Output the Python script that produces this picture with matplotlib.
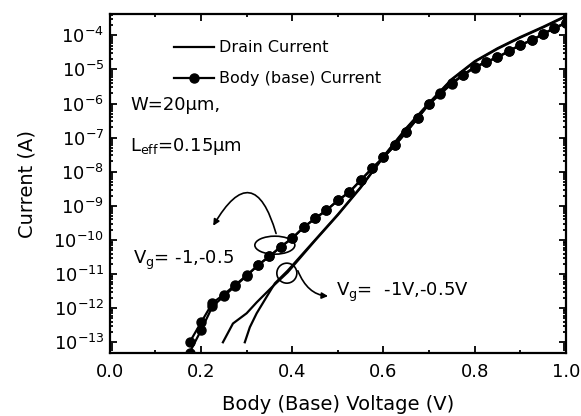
import numpy as np
import matplotlib
matplotlib.use("Agg")
import matplotlib.pyplot as plt
from matplotlib.ticker import LogLocator, FixedLocator, MultipleLocator, FuncFormatter
from matplotlib.patches import Ellipse, FancyArrowPatch

plt.rcParams['font.family'] = ['DejaVu Sans']
plt.rcParams['mathtext.fontset'] = 'dejavusans'

# Body (base) current, Vg = -1 V and Vg = -0.5 V (log10 of current in A)
vb_body = [0.175, 0.2, 0.225, 0.25, 0.275, 0.3, 0.325, 0.35, 0.375, 0.4,
           0.425, 0.45, 0.475, 0.5, 0.525, 0.55, 0.575, 0.6, 0.625, 0.65,
           0.675, 0.7, 0.725, 0.75, 0.775, 0.8, 0.825, 0.85, 0.875, 0.9,
           0.925, 0.95, 0.975, 1.0]
log_body_1 = [-13.3, -12.65, -11.95, -11.65, -11.35, -11.05, -10.74, -10.48, -10.2, -9.95,
              -9.63, -9.37, -9.13, -8.84, -8.6, -8.25, -7.9, -7.58, -7.23, -6.84,
              -6.43, -6.02, -5.72, -5.42, -5.17, -4.95, -4.79, -4.65, -4.47, -4.29,
              -4.15, -3.97, -3.79, -3.65]
log_body_2 = [-13.0, -12.42, -11.85, -11.6, -11.32, -11.04, -10.74, -10.48, -10.2, -9.95,
              -9.63, -9.37, -9.13, -8.84, -8.6, -8.25, -7.9, -7.58, -7.23, -6.84,
              -6.43, -6.0, -5.7, -5.4, -5.15, -4.93, -4.78, -4.64, -4.46, -4.28,
              -4.14, -3.96, -3.78, -3.63]

# Drain current, Vg = -1 V and Vg = -0.5 V
vd_1 = [0.248, 0.27, 0.30, 0.322, 0.355, 0.39, 0.45, 0.5, 0.55, 0.6,
        0.65, 0.7, 0.75, 0.8, 0.85, 0.9, 0.95, 1.0]
log_drain_1 = [-13.0, -12.45, -12.15, -11.83, -11.39, -10.95, -10.02, -9.27, -8.47, -7.57,
               -6.74, -6.0, -5.3, -4.78, -4.4, -4.07, -3.77, -3.45]
vd_2 = [0.296, 0.307, 0.322, 0.346, 0.362, 0.39, 0.45, 0.5, 0.55, 0.6,
        0.65, 0.7, 0.75, 0.8, 0.85, 0.9, 0.95, 1.0]
log_drain_2 = [-13.0, -12.56, -12.15, -11.62, -11.27, -10.9, -10.0, -9.25, -8.45, -7.55,
               -6.72, -5.98, -5.28, -4.76, -4.38, -4.05, -3.75, -3.43]

fig = plt.figure(figsize=(5.81, 4.16), dpi=100)
ax = fig.add_axes([0.189, 0.151, 0.785, 0.815])

ax.plot(vd_1, 10.0 ** np.array(log_drain_1), color='black', lw=1.6, label='Drain Current')
ax.plot(vd_2, 10.0 ** np.array(log_drain_2), color='black', lw=1.6)
ax.plot(vb_body, 10.0 ** np.array(log_body_1), color='black', lw=1.6, marker='o', ms=6.5,
        label='Body (base) Current')
ax.plot(vb_body, 10.0 ** np.array(log_body_2), color='black', lw=1.6, marker='o', ms=6.5)

ax.set_yscale('log')
ax.set_xlim(0.0, 1.0)
ax.set_ylim(10 ** -13.32, 10 ** -3.38)

ax.xaxis.set_major_locator(MultipleLocator(0.2))
ax.xaxis.set_minor_locator(MultipleLocator(0.1))
ax.yaxis.set_major_locator(FixedLocator([10.0 ** k for k in range(-13, -3)]))
ax.yaxis.set_minor_locator(LogLocator(base=10, subs=np.arange(2, 10), numticks=30))
ax.yaxis.set_major_formatter(FuncFormatter(lambda v, p: r'10$^{%d}$' % int(round(np.log10(v)))))
ax.xaxis.set_major_formatter(FuncFormatter(lambda v, p: '%.1f' % v))

ax.tick_params(which='both', direction='in', top=True, right=True, width=1.3)
ax.tick_params(which='major', length=5, labelsize=13)
ax.tick_params(axis='y', which='major', pad=4)
ax.tick_params(axis='x', which='major', pad=7)
ax.tick_params(which='minor', length=2.5)
ax.yaxis.set_minor_formatter(FuncFormatter(lambda v, p: ''))
for s in ax.spines.values():
    s.set_linewidth(1.6)

ax.set_xlabel('Body (Base) Voltage (V)', fontsize=14, labelpad=10)
ax.set_ylabel('Current (A)', fontsize=14, labelpad=12)

leg = ax.legend(loc='upper left', bbox_to_anchor=(0.11, 0.965), frameon=False, fontsize=11.5,
                handlelength=2.5, handletextpad=0.3, labelspacing=1.0)

ax.text(0.045, 10 ** -6.05, 'W=20μm,', fontsize=13, va='center')
ax.text(0.045, 10 ** -7.25, r'L$_{\rm eff}$=0.15μm', fontsize=13, va='center')
ax.text(0.05, 10 ** -10.6, r'V$_{\rm g}$= -1,-0.5', fontsize=13, va='center')
ax.text(0.495, 10 ** -11.55, r'V$_{\rm g}$=  -1V,-0.5V', fontsize=13, va='center')

def axf(px, py):
    return ((px - 110) / 456, 1 - (py - 14) / 339)

# annotation shapes
ax.add_patch(Ellipse(axf(275, 245), 40 / 456, 18 / 339,
                     transform=ax.transAxes, fill=False, lw=1.2, color='black'))
ax.add_patch(Ellipse(axf(287, 273), 20 / 456, 20 / 339,
                     transform=ax.transAxes, fill=False, lw=1.2, color='black'))

a1 = FancyArrowPatch(axf(277, 236), axf(212, 228), transform=ax.transAxes,
                     connectionstyle='arc3,rad=1.2', arrowstyle='-|>', mutation_scale=9,
                     lw=1.2, color='black')
ax.add_patch(a1)
a2 = FancyArrowPatch(axf(297, 268), axf(331, 296), transform=ax.transAxes,
                     connectionstyle='angle3,angleA=-70,angleB=0', arrowstyle='-|>',
                     mutation_scale=9, lw=1.2, color='black')
ax.add_patch(a2)

fig.savefig('out.png', dpi=100)
